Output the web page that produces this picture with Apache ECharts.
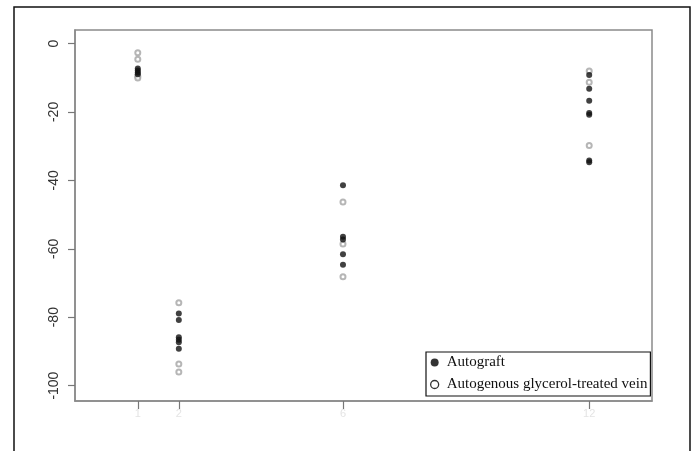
<!DOCTYPE html>
<html>
<head>
<meta charset="utf-8">
<script src="https://cdn.jsdelivr.net/npm/echarts@6/dist/echarts.min.js"></script>
<style>
  html, body { margin: 0; padding: 0; background: #fff; }
  #chart { width: 692px; height: 451px; }
</style>
</head>
<body>
<div id="chart"></div>
<script>
// x positions of the four time points (tick labels are unreadable in the source)
const timePoints = [1, 2, 6, 12]
const yTicks = [0, -20, -40, -60, -80, -100]

// per time point
const autograftVals = [
  [-7.3, -7.9, -8.5, -9.0],
  [-78.9, -80.8, -85.9, -86.6, -87.3, -89.2],
  [-41.4, -56.5, -57.3, -61.6, -64.7],
  [-9.2, -13.2, -16.7, -20.3, -20.8, -34.2, -34.7]
]
const glycerolVals = [
  [-2.7, -4.6, -9.6, -10.1],
  [-75.8, -93.7, -96.0],
  [-46.3, -58.6, -68.2],
  [-8.0, -11.3, -29.8]
]

const seriesNames = ['Autograft', 'Autogenous glycerol-treated vein']

function toPoints(groups) {
  const out = []
  groups.forEach((vals, i) => {
    vals.forEach(v => out.push([timePoints[i], v]))
  })
  return out
}

const chart = echarts.init(document.getElementById('chart'), null, { renderer: 'canvas' })
const axisGrey = '#8a8a8a'

chart.setOption({
  backgroundColor: '#fff',
  animation: false,
  grid: {
    left: 75, top: 30, right: 40, bottom: 50,
    containLabel: false, outerBoundsMode: 'none',
    show: true, borderColor: axisGrey, borderWidth: 1.5, backgroundColor: 'transparent'
  },
  xAxis: {
    type: 'value', min: -0.53, max: 13.53,
    axisLine: { show: true, onZero: false, lineStyle: { color: axisGrey, width: 1.5 } },
    axisTick: { show: true, inside: false, length: 8, customValues: timePoints, lineStyle: { color: '#777', width: 1.2 } },
    axisLabel: { customValues: timePoints, margin: 7, color: '#e4e4e4', fontSize: 11, fontFamily: 'Liberation Sans' },
    splitLine: { show: false }
  },
  yAxis: {
    type: 'value', min: -104.5, max: 3.95,
    axisLine: { show: true, onZero: false, lineStyle: { color: axisGrey, width: 1.5 } },
    axisTick: { show: true, inside: false, length: 7, customValues: yTicks, lineStyle: { color: '#777', width: 1.2 } },
    axisLabel: {
      customValues: yTicks, rotate: 90, margin: 14,
      color: '#333', fontSize: 14, fontFamily: 'Liberation Sans'
    },
    splitLine: { show: false }
  },
  legend: {
    orient: 'vertical',
    left: 426, top: 352,
    padding: [3, 3, 4, 4],
    itemGap: 7,
    itemWidth: 8, itemHeight: 8,
    borderColor: '#111', borderWidth: 1.2,
    backgroundColor: '#fff',
    textStyle: { fontFamily: 'Liberation Serif', fontSize: 15, color: '#111', padding: [0, 0, 0, 3] },
    data: [
      { name: seriesNames[0], icon: 'circle', itemStyle: { color: '#000' } },
      { name: seriesNames[1], icon: 'circle', itemStyle: { color: '#fff', borderColor: '#000', borderWidth: 1.3 } }
    ]
  },
  graphic: [{
    type: 'rect', silent: true, z: 100,
    shape: { x: 14, y: 7, width: 676, height: 470 },
    style: { fill: 'none', stroke: '#111', lineWidth: 1.5 }
  }],
  series: [
    {
      name: seriesNames[1], type: 'scatter', symbol: 'emptyCircle', symbolSize: 5,
      itemStyle: { color: '#a4a4a4', borderColor: '#a4a4a4', borderWidth: 1.4 },
      data: toPoints(glycerolVals)
    },
    {
      name: seriesNames[0], type: 'scatter', symbol: 'circle', symbolSize: 6,
      itemStyle: { color: '#111' },
      data: toPoints(autograftVals)
    }
  ]
})
</script>
</body>
</html>
